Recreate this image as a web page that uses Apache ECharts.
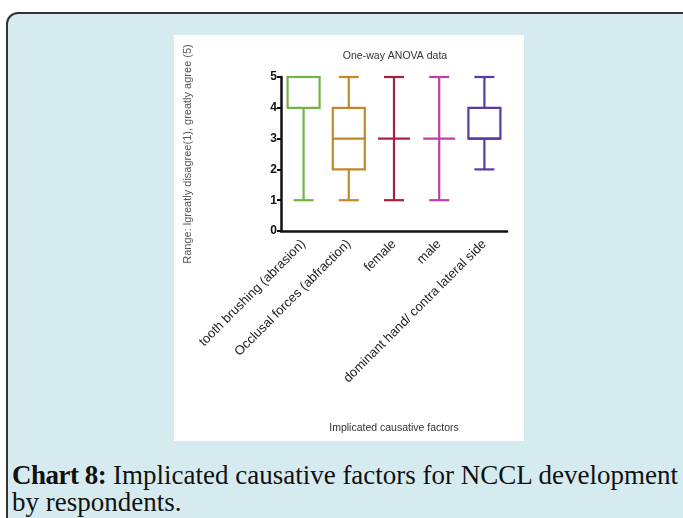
<!DOCTYPE html>
<html>
<head>
<meta charset="utf-8">
<script src="https://cdn.jsdelivr.net/npm/echarts@6/dist/echarts.min.js"></script>
<style>
  html, body { margin: 0; padding: 0; background: #fff; overflow: hidden; width: 683px; height: 518px; }
  #frame {
    position: absolute; left: 6px; top: 12px; width: 700px; height: 560px;
    background: #d6ebf0; border: 2px solid #333; border-top-left-radius: 12px;
    box-sizing: border-box;
  }
  #chart { position: absolute; left: 174px; top: 35px; width: 350px; height: 406px; background: #fff; }
  #caption {
    position: absolute; left: 12px; top: 462px; width: 690px; white-space: nowrap;
    font-family: "Liberation Serif", serif; font-size: 27px; line-height: 27px; color: #111;
  }
  #caption b { font-weight: bold; letter-spacing: -0.5px; }
</style>
</head>
<body>
<div id="frame"></div>
<div id="chart"></div>
<div id="caption"><b>Chart 8:</b> Implicated causative factors for NCCL development<br>by respondents.</div>
<script>
// categories and five-number summaries (min, q1, median, q3, max)
const categories = [
  'tooth brushing (abrasion)',
  'Occlusal forces (abfraction)',
  'female',
  'male',
  'dominant hand/ contra lateral side'
];
const minVals = [1, 1, 1, 1, 2];
const q1Vals = [4, 2, 3, 3, 3];
const medianVals = [5, 3, 3, 3, 3];
const q3Vals = [5, 4, 3, 3, 4];
const maxVals = [5, 5, 5, 5, 5];
const yTicks = [0, 1, 2, 3, 4, 5];

const colors = ['#72b444', '#c4882a', '#a82040', '#c03ea8', '#5a3aa2'];

const chart = echarts.init(document.getElementById('chart'));

const seriesData = categories.map((c, i) => [i, minVals[i], q1Vals[i], medianVals[i], q3Vals[i], maxVals[i]]);

function renderBox(params, api) {
  const i = api.value(0);
  const pMin = api.coord([i, api.value(1)]);
  const pQ1 = api.coord([i, api.value(2)]);
  const pMed = api.coord([i, api.value(3)]);
  const pQ3 = api.coord([i, api.value(4)]);
  const pMax = api.coord([i, api.value(5)]);
  const x = pMin[0];
  const bw = 32, cw = 20;
  const style = { stroke: colors[i], lineWidth: 2.2, fill: null };
  const children = [
    { type: 'line', shape: { x1: x, y1: pMin[1], x2: x, y2: pQ1[1] }, style },
    { type: 'line', shape: { x1: x, y1: pQ3[1], x2: x, y2: pMax[1] }, style },
    { type: 'line', shape: { x1: x - cw / 2, y1: pMin[1], x2: x + cw / 2, y2: pMin[1] }, style },
    { type: 'line', shape: { x1: x - cw / 2, y1: pMax[1], x2: x + cw / 2, y2: pMax[1] }, style },
    { type: 'line', shape: { x1: x - bw / 2, y1: pMed[1], x2: x + bw / 2, y2: pMed[1] }, style }
  ];
  if (pQ1[1] !== pQ3[1]) {
    children.push({ type: 'rect', shape: { x: x - bw / 2, y: pQ3[1], width: bw, height: pQ1[1] - pQ3[1] }, style });
  }
  return { type: 'group', children };
}

const option = {
  animation: false,
  backgroundColor: '#fff',
  title: {
    text: 'One-way ANOVA data',
    left: 216, top: 11, textAlign: 'center',
    textStyle: { fontFamily: 'Liberation Sans', fontSize: 10.5, fontWeight: 'normal', color: '#333' }
  },
  grid: { left: 101, top: 42, width: 232, height: 154 },
  xAxis: {
    type: 'category',
    data: categories,
    boundaryGap: true,
    name: 'Implicated causative factors',
    nameLocation: 'middle',
    nameGap: 192,
    nameTextStyle: { fontFamily: 'Liberation Sans', fontSize: 10.5, color: '#333' },
    axisLine: { lineStyle: { color: '#111', width: 2.5 } },
    axisTick: { alignWithLabel: true, length: 5, lineStyle: { color: '#111', width: 2 } },
    axisLabel: { rotate: 45, margin: 11, interval: 0, fontFamily: 'Liberation Sans', fontSize: 13, color: '#222' },
    splitLine: { show: false }
  },
  yAxis: {
    type: 'value',
    min: yTicks[0], max: yTicks[yTicks.length - 1], interval: 1,
    name: 'Range: lgreatly disagree(1), greatly agree (5)',
    nameLocation: 'middle',
    nameGap: 88,
    nameTextStyle: { fontFamily: 'Liberation Sans', fontSize: 11, color: '#555' },
    axisLine: { show: true, lineStyle: { color: '#111', width: 2.5 } },
    axisTick: { show: true, length: 4, lineStyle: { color: '#111', width: 2 } },
    axisLabel: { margin: 4, fontFamily: 'Liberation Sans', fontSize: 12, fontWeight: 'bold', color: '#111' },
    splitLine: { show: false }
  },
  series: [{
    type: 'custom',
    renderItem: renderBox,
    data: seriesData,
    encode: { x: 0, y: [1, 2, 3, 4, 5] }
  }]
};

chart.setOption(option);
</script>
</body>
</html>
